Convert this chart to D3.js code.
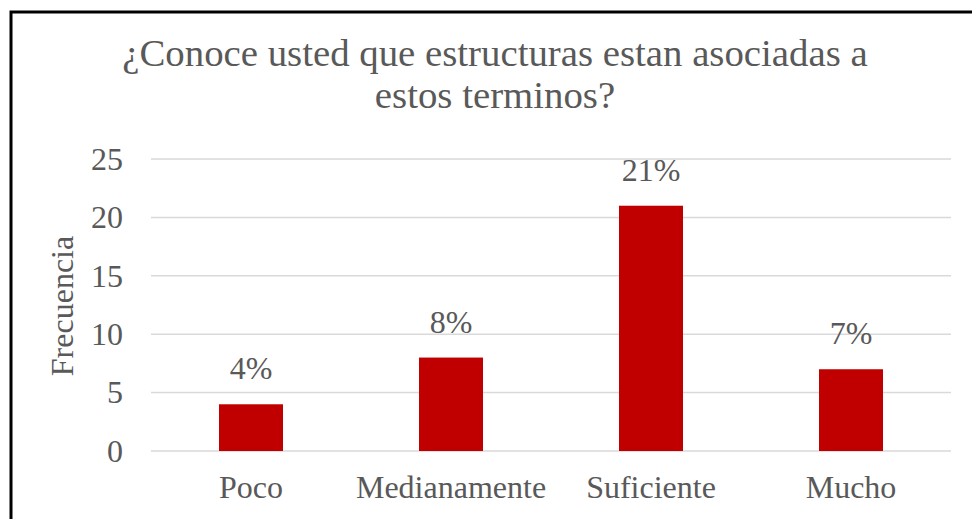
<!DOCTYPE html>
<html>
<head>
<meta charset="utf-8">
<script src="https://cdn.jsdelivr.net/npm/d3@7"></script>
<style>
  body { margin: 0; background: #fff; }
  text { font-family: "Liberation Serif", "Times New Roman", serif; fill: #595959; }
</style>
</head>
<body>
<div id="chart"></div>
<script>
const categories = ["Poco", "Medianamente", "Suficiente", "Mucho"];
const values = [4, 8, 21, 7];
const labels = ["4%", "8%", "21%", "7%"];
const yTicks = [0, 5, 10, 15, 20, 25];
const titleLines = ["¿Conoce usted que estructuras estan asociadas a", "estos terminos?"];

const width = 972;
const height = 519;

const svg = d3.select("div#chart").append("svg")
    .attr("width", width)
    .attr("height", height)

// outer frame (cut off on the right and bottom)
svg.append("rect")
    .attr("x", 11).attr("y", 12)
    .attr("width", width).attr("height", height)
    .attr("fill", "none")
    .attr("stroke", "#000")
    .attr("stroke-width", 3)

const x = d3.scaleBand().domain(categories).range([151, 951]).paddingInner(0.68).paddingOuter(0.34)
const y = d3.scaleLinear().domain([0, 25]).range([451, 159])

// gridlines
svg.append("g").selectAll("line")
    .data(yTicks)
    .enter().append("line")
    .attr("x1", 151).attr("x2", 951)
    .attr("y1", d => y(d)).attr("y2", d => y(d))
    .attr("stroke", "#d9d9d9")
    .attr("stroke-width", 1.5)

const yAxis = d3.axisLeft(y).tickValues(yTicks).tickSize(0).tickPadding(0)
const yAxisGroup = svg.append("g")
    .attr("transform", "translate(123, 0)")
    .call(yAxis)
yAxisGroup.select(".domain").remove()
yAxisGroup.selectAll("text")
    .attr("font-size", 32)
    .attr("font-family", null)
    .attr("dy", "0.32em")

const xAxis = d3.axisBottom(x).tickSize(0).tickPadding(0)
const xAxisGroup = svg.append("g")
    .attr("transform", "translate(0, 451)")
    .call(xAxis)
xAxisGroup.select(".domain").remove()
xAxisGroup.selectAll("text")
    .attr("font-size", 32)
    .attr("font-family", null)
    .attr("dy", null)
    .attr("y", 47)

svg.append("g").selectAll(".bar")
    .data(values)
    .enter().append("rect")
    .attr("class", "bar")
    .attr("x", (d, i) => x(categories[i]))
    .attr("y", d => y(d))
    .attr("width", x.bandwidth())
    .attr("height", d => y(0) - y(d))
    .attr("fill", "#c00000")

svg.append("g").selectAll(".label")
    .data(values)
    .enter().append("text")
    .attr("class", "label")
    .attr("x", (d, i) => x(categories[i]) + x.bandwidth() / 2)
    .attr("y", d => y(d) - 25)
    .attr("text-anchor", "middle")
    .attr("font-size", 32)
    .text((d, i) => labels[i])

svg.append("text")
    .attr("transform", "translate(73, 306) rotate(-90)")
    .attr("text-anchor", "middle")
    .attr("font-size", 32)
    .text("Frecuencia")

svg.append("g").selectAll("text")
    .data(titleLines)
    .enter().append("text")
    .attr("x", 495)
    .attr("y", (d, i) => 66 + i * 42)
    .attr("text-anchor", "middle")
    .attr("font-size", 38.8)
    .text(d => d)
</script>
</body>
</html>
